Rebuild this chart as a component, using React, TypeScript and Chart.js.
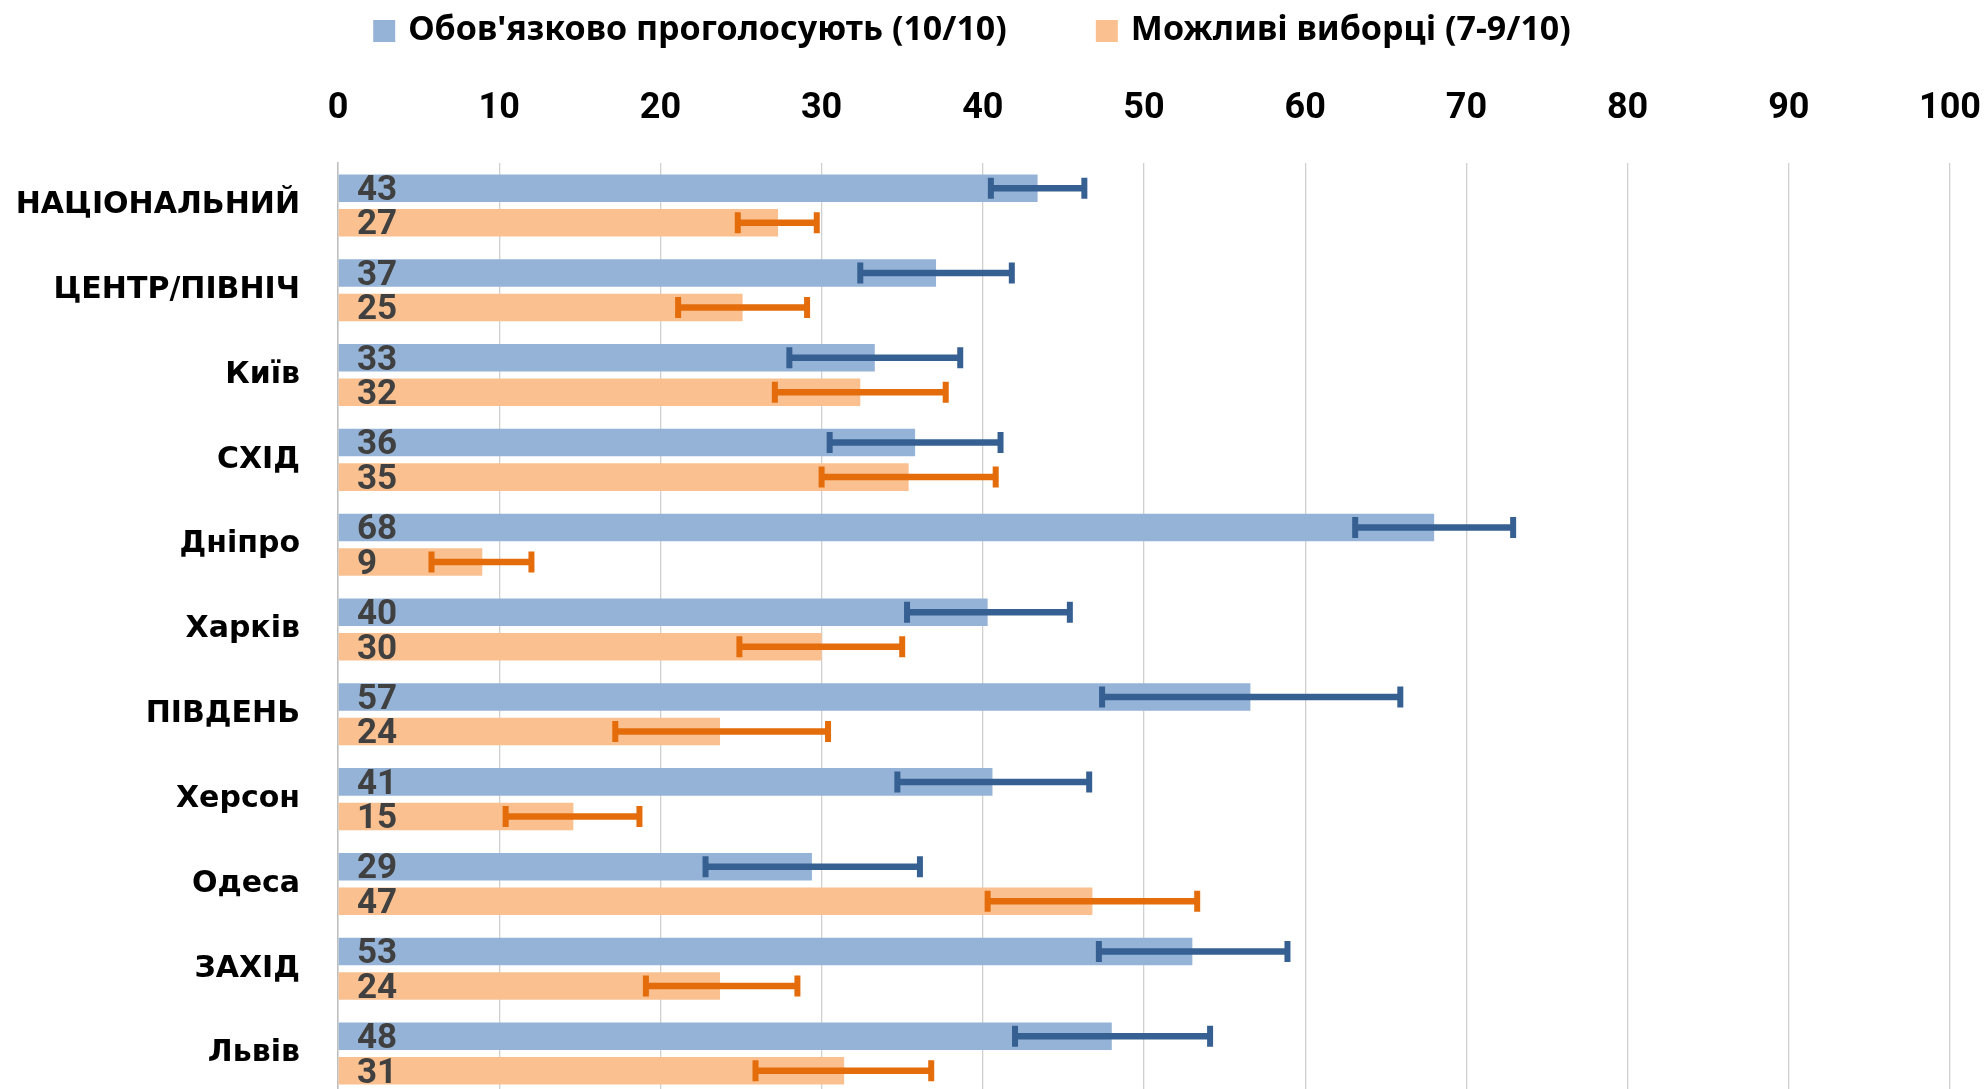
import React, { useEffect, useRef } from "react";
import { Chart, registerables } from "chart.js";

Chart.register(...registerables);

const categories = [
  "НАЦІОНАЛЬНИЙ",
  "ЦЕНТР/ПІВНІЧ",
  "Київ",
  "СХІД",
  "Дніпро",
  "Харків",
  "ПІВДЕНЬ",
  "Херсон",
  "Одеса",
  "ЗАХІД",
  "Львів",
];

const seriesNames = ["Обов'язково проголосують (10/10)", "Можливі виборці (7-9/10)"];

const certainValues = [43.4, 37.1, 33.3, 35.8, 68.0, 40.3, 56.6, 40.6, 29.4, 53.0, 48.0];
const certainLow = [40.5, 32.4, 28.0, 30.5, 63.1, 35.3, 47.4, 34.7, 22.8, 47.2, 42.0];
const certainHigh = [46.3, 41.8, 38.6, 41.1, 72.9, 45.4, 65.9, 46.6, 36.1, 58.9, 54.1];

const likelyValues = [27.3, 25.1, 32.4, 35.4, 8.95, 30.0, 23.7, 14.6, 46.8, 23.7, 31.4];
const likelyLow = [24.8, 21.1, 27.1, 30.0, 5.8, 24.9, 17.2, 10.4, 40.3, 19.1, 25.9];
const likelyHigh = [29.7, 29.1, 37.7, 40.8, 12.0, 35.0, 30.4, 18.7, 53.3, 28.5, 36.8];

const xMin = 0;
const xMax = 100;
const xStep = 10;

const barColors = ["#95B3D7", "#FAC090"];
const errorColors = ["#366092", "#E46C0A"];

const errorBarPlugin = {
  id: "errorBars",
  afterDatasetsDraw(chart: any) {
    const ctx = chart.ctx;
    const xScale = chart.scales.x;
    chart.data.datasets.forEach((ds: any, di: number) => {
      const meta = chart.getDatasetMeta(di);
      meta.data.forEach((bar: any, i: number) => {
        const x1 = xScale.getPixelForValue(ds.errLow[i]);
        const x2 = xScale.getPixelForValue(ds.errHigh[i]);
        const y = bar.y;
        ctx.save();
        ctx.strokeStyle = ds.errColor;
        ctx.lineWidth = 6.5;
        ctx.lineCap = "butt";
        ctx.beginPath();
        ctx.moveTo(x1, y);
        ctx.lineTo(x2, y);
        ctx.stroke();
        ctx.lineWidth = 6;
        ctx.beginPath();
        ctx.moveTo(x1, y - 10.5);
        ctx.lineTo(x1, y + 10.5);
        ctx.moveTo(x2, y - 10.5);
        ctx.lineTo(x2, y + 10.5);
        ctx.stroke();
        ctx.restore();
      });
    });
  },
};

const dataLabelPlugin = {
  id: "dataLabels",
  afterDatasetsDraw(chart: any) {
    const ctx = chart.ctx;
    const xScale = chart.scales.x;
    const x0 = xScale.getPixelForValue(0);
    chart.data.datasets.forEach((ds: any, di: number) => {
      const meta = chart.getDatasetMeta(di);
      meta.data.forEach((bar: any, i: number) => {
        ctx.save();
        ctx.font = "bold 35px Roboto";
        ctx.fillStyle = "#404040";
        ctx.textAlign = "left";
        ctx.textBaseline = "middle";
        ctx.fillText(String(Math.round(ds.data[i])), x0 + 19, bar.y + 3);
        ctx.restore();
      });
    });
  },
};

const legendPlugin = {
  id: "customLegend",
  afterDraw(chart: any) {
    const ctx = chart.ctx;
    const box = 22;
    const gap = 13;
    const spacing = 89;
    const font = "bold 34px 'Noto Sans'";
    ctx.save();
    ctx.font = font;
    const widths = chart.data.datasets.map((d: any) => ctx.measureText(d.label).width);
    const total =
      widths.reduce((a: number, b: number) => a + b, 0) +
      chart.data.datasets.length * (box + gap) +
      (chart.data.datasets.length - 1) * spacing;
    const centerX = 972;
    const cy = 30;
    let x = centerX - total / 2;
    chart.data.datasets.forEach((d: any, i: number) => {
      ctx.fillStyle = d.backgroundColor;
      ctx.fillRect(x, cy - box / 2 + 1, box, box);
      x += box + gap;
      ctx.fillStyle = "#000";
      ctx.textAlign = "left";
      ctx.textBaseline = "middle";
      ctx.fillText(d.label, x, cy);
      x += widths[i] + spacing;
    });
    ctx.restore();
  },
};

export default function App() {
  const canvasRef = useRef<HTMLCanvasElement | null>(null);

  useEffect(() => {
    if (!canvasRef.current) return;
    const chart = new Chart(canvasRef.current, {
      type: "bar",
      data: {
        labels: categories,
        datasets: [
          {
            label: seriesNames[0],
            data: certainValues,
            backgroundColor: barColors[0],
            barPercentage: 0.797,
            categoryPercentage: 0.814,
            errLow: certainLow,
            errHigh: certainHigh,
            errColor: errorColors[0],
          } as any,
          {
            label: seriesNames[1],
            data: likelyValues,
            backgroundColor: barColors[1],
            barPercentage: 0.797,
            categoryPercentage: 0.814,
            errLow: likelyLow,
            errHigh: likelyHigh,
            errColor: errorColors[1],
          } as any,
        ],
      },
      options: {
        indexAxis: "y",
        animation: false,
        responsive: false,
        devicePixelRatio: 1,
        layout: { padding: { top: 0, right: 35, bottom: 4, left: 0 } },
        plugins: {
          legend: { display: false },
          tooltip: { enabled: false },
        },
        scales: {
          x: {
            position: "top",
            min: xMin,
            max: xMax,
            ticks: {
              stepSize: xStep,
              color: "#000",
              font: { family: "Roboto", size: 36, weight: "bold" },
              padding: 32,
            },
            grid: { color: "#D0D0D0", lineWidth: 1.3, drawTicks: false },
            border: { display: false },
            afterFit(axis: any) {
              axis.height = 163;
              axis.paddingLeft = 0;
              axis.paddingRight = 0;
            },
          },
          y: {
            ticks: {
              color: "#000",
              font: { family: "DejaVu Sans", size: 30, weight: "bold" },
              padding: 38,
            },
            grid: { display: false, drawTicks: false },
            border: { display: true, color: "#BFBFBF", width: 1.5 },
            afterFit(axis: any) {
              axis.width = 338;
              axis.paddingTop = 0;
              axis.paddingBottom = 0;
            },
          },
        },
      } as any,
      plugins: [errorBarPlugin, dataLabelPlugin, legendPlugin],
    });
    return () => chart.destroy();
  }, []);

  return (
    <div
      style={{
        position: "fixed",
        left: 0,
        top: 0,
        width: 1985,
        height: 1089,
        overflow: "hidden",
        background: "#fff",
      }}
    >
      <canvas ref={canvasRef} width={1985} height={1100} style={{ display: "block" }} />
    </div>
  );
}
